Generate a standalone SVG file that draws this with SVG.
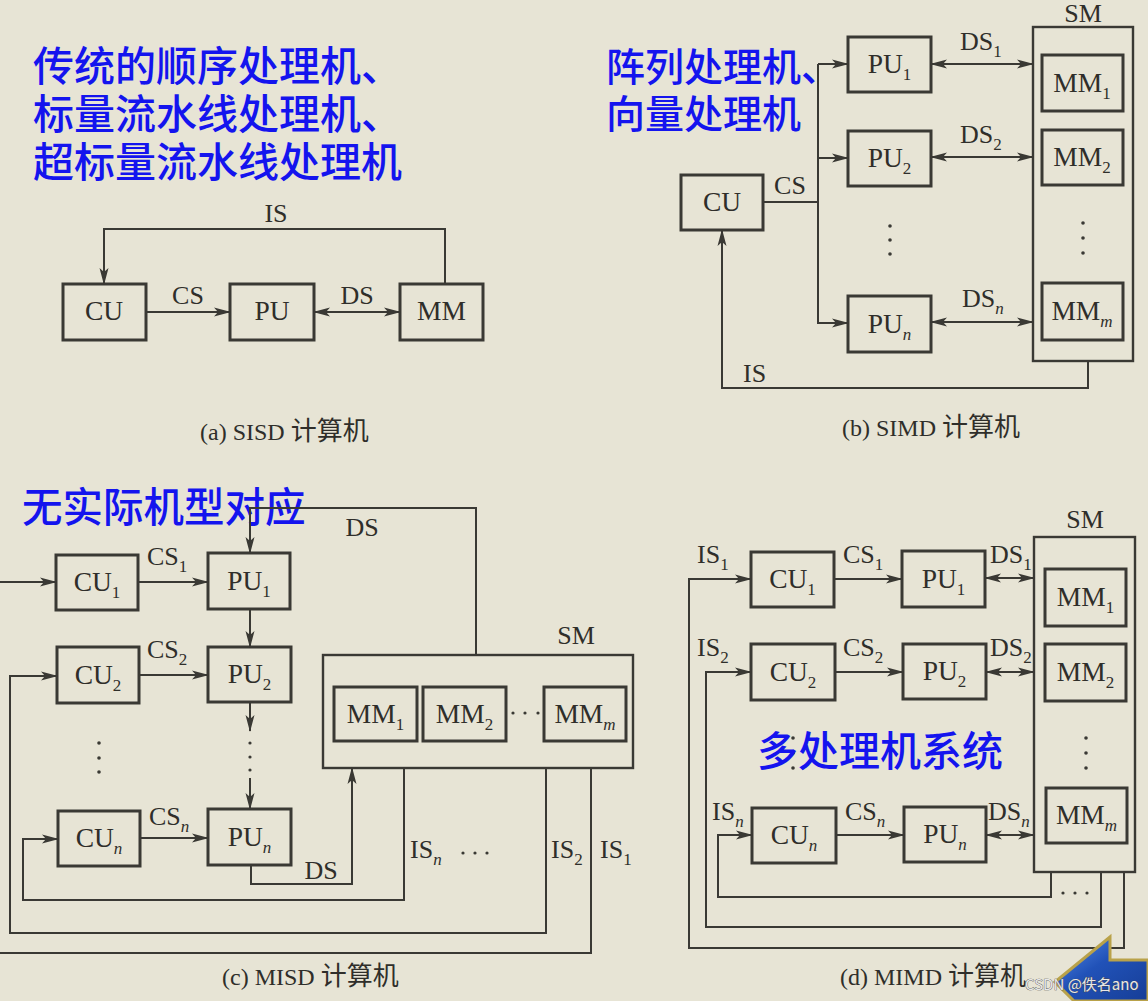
<svg xmlns="http://www.w3.org/2000/svg" width="1148" height="1001" viewBox="0 0 1148 1001">
<defs>
<marker id="arr" markerUnits="userSpaceOnUse" markerWidth="17" markerHeight="10" refX="16" refY="5" orient="auto-start-reverse">
<path d="M0,0.5 L17,5 L0,9.5 L4,5 z" fill="#3a3934"/>
</marker>
<linearGradient id="blueg" x1="0" y1="0" x2="1" y2="1">
<stop offset="0" stop-color="#5b8fe8"/>
<stop offset="0.45" stop-color="#2152b8"/>
<stop offset="1" stop-color="#163d96"/>
</linearGradient>
<style>
.box{fill:none;stroke:#3a3934;stroke-width:3}
.sm{fill:none;stroke:#3a3934;stroke-width:2.4}
.ln{fill:none;stroke:#3a3934;stroke-width:2}
.a{marker-end:url(#arr)}
.b{marker-start:url(#arr);marker-end:url(#arr)}
.t{font-family:"Liberation Serif","Times New Roman",serif;font-size:27.5px;fill:#2f2e2a}
.c{text-anchor:middle}
.l{font-family:"Liberation Serif","Times New Roman",serif;font-size:26px;fill:#2f2e2a}
.s{font-size:17px}
.i{font-style:italic}
.cap{font-family:"Liberation Serif","Noto Sans CJK SC",serif;font-size:24px;fill:#2f2e2a}
.cj{font-family:"Noto Sans CJK SC",sans-serif;font-size:26px}
.blue{font-family:"Noto Sans CJK SC","Noto Sans",sans-serif;font-weight:500;fill:#1414ee}
.dot{fill:#3a3934}
</style>
</defs>
<rect width="1148" height="1001" fill="#e7e4d5"/>

<!-- annotations -->
<text id="note-a" class="blue" font-size="41" x="33" y="81">传统的顺序处理机、<tspan x="33" dy="48">标量流水线处理机、</tspan><tspan x="33" dy="48">超标量流水线处理机</tspan></text>
<text id="note-b" class="blue" font-size="39" x="606" y="81">阵列处理机、<tspan x="606" dy="47">向量处理机</tspan></text>

<!-- (a) SISD -->
<g id="a-cu"><rect class="box" x="63" y="284" width="83" height="56"/><text class="t c" x="104" y="320">CU</text></g>
<g id="a-pu"><rect class="box" x="230" y="284" width="84" height="56"/><text class="t c" x="272" y="320">PU</text></g>
<g id="a-mm"><rect class="box" x="400" y="284" width="83" height="56"/><text class="t c" x="441.5" y="320">MM</text></g>
<g id="a-connectors">
<path class="ln a" d="M146,312 H230"/>
<path class="ln b" d="M314,312 H400"/>
<path class="ln a" d="M445,284 V229 H104 V284"/>
<text class="l c" x="188" y="304">CS</text>
<text class="l c" x="357" y="304">DS</text>
<text class="l c" x="276" y="222">IS</text>
</g>
<text class="cap" x="200" y="440">(a) SISD <tspan class="cj">计算机</tspan></text>

<!-- (b) SIMD -->
<g id="b-sm"><rect class="sm" x="1033" y="27" width="100" height="334"/><text class="l c" x="1083" y="22">SM</text>
<circle class="dot" cx="1083" cy="223" r="1.8"/><circle class="dot" cx="1083" cy="238" r="1.8"/><circle class="dot" cx="1083" cy="253" r="1.8"/></g>
<g id="b-mm1"><rect class="box" x="1042" y="55" width="81" height="56"/><text class="t c" x="1082" y="92">MM<tspan class="s" dy="7">1</tspan></text></g>
<g id="b-mm2"><rect class="box" x="1042" y="130" width="81" height="55"/><text class="t c" x="1082" y="166">MM<tspan class="s" dy="7">2</tspan></text></g>
<g id="b-mmm"><rect class="box" x="1042" y="283" width="81" height="57"/><text class="t c" x="1082" y="320">MM<tspan class="s i" dy="7">m</tspan></text></g>
<g id="b-pu1"><rect class="box" x="848" y="37" width="83" height="55"/><text class="t c" x="889.5" y="73">PU<tspan class="s" dy="7">1</tspan></text></g>
<g id="b-pu2"><rect class="box" x="848" y="131" width="83" height="55"/><text class="t c" x="889.5" y="167">PU<tspan class="s" dy="7">2</tspan></text></g>
<g id="b-pun"><rect class="box" x="848" y="296" width="83" height="56"/><text class="t c" x="889.5" y="333">PU<tspan class="s i" dy="7">n</tspan></text></g>
<g id="b-pudots"><circle class="dot" cx="890" cy="226" r="1.8"/><circle class="dot" cx="890" cy="240" r="1.8"/><circle class="dot" cx="890" cy="254" r="1.8"/></g>
<g id="b-cu"><rect class="box" x="681" y="175" width="82" height="55"/><text class="t c" x="722" y="211">CU</text></g>
<g id="b-connectors">
<path class="ln" d="M763,202 H818 M818,64 V324"/>
<path class="ln a" d="M818,64 H848"/>
<path class="ln a" d="M818,158 H848"/>
<path class="ln a" d="M818,323 H848"/>
<path class="ln b" d="M931,64 H1033"/>
<path class="ln b" d="M931,157 H1033"/>
<path class="ln b" d="M931,322 H1033"/>
<path class="ln a" d="M1088,361 V388 H722 V230"/>
<text class="l c" x="790" y="194">CS</text>
<text class="l" x="960" y="50">DS<tspan class="s" dy="7">1</tspan></text>
<text class="l" x="960" y="143">DS<tspan class="s" dy="7">2</tspan></text>
<text class="l" x="962" y="307">DS<tspan class="s i" dy="7">n</tspan></text>
<text class="l" x="743" y="382">IS</text>
</g>
<text class="cap" x="842" y="436">(b) SIMD <tspan class="cj">计算机</tspan></text>

<!-- (c) MISD -->
<text id="note-c" class="blue" font-size="40.5" x="22" y="522">无实际机型对应</text>
<g id="c-cu1"><rect class="box" x="56" y="555" width="82" height="55"/><text class="t c" x="97" y="591">CU<tspan class="s" dy="7">1</tspan></text></g>
<g id="c-pu1"><rect class="box" x="208" y="553" width="82" height="56"/><text class="t c" x="249" y="590">PU<tspan class="s" dy="7">1</tspan></text></g>
<g id="c-cu2"><rect class="box" x="57" y="647" width="82" height="56"/><text class="t c" x="98" y="684">CU<tspan class="s" dy="7">2</tspan></text></g>
<g id="c-pu2"><rect class="box" x="208" y="647" width="83" height="55"/><text class="t c" x="249.5" y="683">PU<tspan class="s" dy="7">2</tspan></text></g>
<g id="c-cun"><rect class="box" x="58" y="811" width="82" height="55"/><text class="t c" x="99" y="847">CU<tspan class="s i" dy="7">n</tspan></text></g>
<g id="c-pun"><rect class="box" x="208" y="809" width="83" height="56"/><text class="t c" x="249.5" y="846">PU<tspan class="s i" dy="7">n</tspan></text></g>
<g id="c-cudots"><circle class="dot" cx="99" cy="743" r="1.8"/><circle class="dot" cx="99" cy="758" r="1.8"/><circle class="dot" cx="99" cy="772" r="1.8"/></g>
<g id="c-sm"><rect class="sm" x="323" y="655" width="310" height="113"/><text class="l c" x="576" y="644">SM</text>
<circle class="dot" cx="513" cy="713" r="1.6"/><circle class="dot" cx="525" cy="713" r="1.6"/><circle class="dot" cx="538" cy="713" r="1.6"/></g>
<g id="c-mm1"><rect class="box" x="334" y="687" width="83" height="54"/><text class="t c" x="375.5" y="723">MM<tspan class="s" dy="7">1</tspan></text></g>
<g id="c-mm2"><rect class="box" x="423" y="687" width="83" height="54"/><text class="t c" x="464.5" y="723">MM<tspan class="s" dy="7">2</tspan></text></g>
<g id="c-mmm"><rect class="box" x="544" y="687" width="82" height="54"/><text class="t c" x="585" y="723">MM<tspan class="s i" dy="7">m</tspan></text></g>
<g id="c-connectors">
<path class="ln a" d="M0,582 H56"/>
<path class="ln a" d="M138,582 H208"/>
<path class="ln a" d="M139,675 H208"/>
<path class="ln a" d="M140,838 H208"/>
<path class="ln a" d="M476,655 V508 H250 V553"/>
<path class="ln a" d="M250,609 V647"/>
<path class="ln a" d="M250,702 V731"/>
<circle class="dot" cx="250" cy="743" r="1.6"/><circle class="dot" cx="250" cy="757" r="1.6"/><circle class="dot" cx="250" cy="770" r="1.6"/>
<path class="ln a" d="M250,778 V809"/>
<path class="ln a" d="M251,865 V884 H352 V768"/>
<path class="ln a" d="M404,768 V900 H23 V839 H58"/>
<path class="ln a" d="M546,768 V933 H10 V676 H57"/>
<path class="ln" d="M591,768 V953 H0"/>
<text class="l" x="147" y="565">CS<tspan class="s" dy="7">1</tspan></text>
<text class="l" x="147" y="658">CS<tspan class="s" dy="7">2</tspan></text>
<text class="l" x="149" y="825">CS<tspan class="s i" dy="7">n</tspan></text>
<text class="l c" x="362" y="536">DS</text>
<text class="l c" x="321" y="879">DS</text>
<text class="l" x="410" y="858">IS<tspan class="s i" dy="7">n</tspan></text>
<circle class="dot" cx="463" cy="853" r="1.6"/><circle class="dot" cx="475" cy="853" r="1.6"/><circle class="dot" cx="487" cy="853" r="1.6"/>
<text class="l" x="551" y="858">IS<tspan class="s" dy="7">2</tspan></text>
<text class="l" x="600" y="858">IS<tspan class="s" dy="7">1</tspan></text>
</g>
<text class="cap" x="222" y="985">(c) MISD <tspan class="cj">计算机</tspan></text>

<!-- (d) MIMD -->
<g id="d-cu1"><rect class="box" x="751" y="552" width="83" height="55"/><text class="t c" x="792.5" y="588">CU<tspan class="s" dy="7">1</tspan></text></g>
<g id="d-pu1"><rect class="box" x="902" y="551" width="83" height="56"/><text class="t c" x="943.5" y="588">PU<tspan class="s" dy="7">1</tspan></text></g>
<g id="d-cu2"><rect class="box" x="751" y="644" width="84" height="56"/><text class="t c" x="793" y="681">CU<tspan class="s" dy="7">2</tspan></text></g>
<g id="d-pu2"><rect class="box" x="903" y="644" width="83" height="55"/><text class="t c" x="944.5" y="680">PU<tspan class="s" dy="7">2</tspan></text></g>
<g id="d-cun"><rect class="box" x="752" y="808" width="84" height="55"/><text class="t c" x="794" y="844">CU<tspan class="s i" dy="7">n</tspan></text></g>
<g id="d-pun"><rect class="box" x="904" y="807" width="82" height="55"/><text class="t c" x="945" y="843">PU<tspan class="s i" dy="7">n</tspan></text></g>
<g id="d-cudots"><circle class="dot" cx="793" cy="738" r="1.8"/><circle class="dot" cx="793" cy="753" r="1.8"/><circle class="dot" cx="793" cy="768" r="1.8"/></g>
<g id="d-sm"><rect class="sm" x="1034" y="537" width="101" height="335"/><text class="l c" x="1085" y="528">SM</text>
<circle class="dot" cx="1086" cy="738" r="1.8"/><circle class="dot" cx="1086" cy="753" r="1.8"/><circle class="dot" cx="1086" cy="768" r="1.8"/></g>
<g id="d-mm1"><rect class="box" x="1045" y="569" width="81" height="57"/><text class="t c" x="1085.5" y="606">MM<tspan class="s" dy="7">1</tspan></text></g>
<g id="d-mm2"><rect class="box" x="1045" y="644" width="81" height="57"/><text class="t c" x="1085.5" y="681">MM<tspan class="s" dy="7">2</tspan></text></g>
<g id="d-mmm"><rect class="box" x="1046" y="788" width="81" height="55"/><text class="t c" x="1086.5" y="824">MM<tspan class="s i" dy="7">m</tspan></text></g>
<g id="d-connectors">
<path class="ln a" d="M834,579 H902"/>
<path class="ln b" d="M985,578 H1034"/>
<path class="ln a" d="M835,672 H903"/>
<path class="ln b" d="M986,672 H1034"/>
<path class="ln a" d="M836,835 H904"/>
<path class="ln b" d="M986,835 H1034"/>
<path class="ln a" d="M1124,872 V948 H689 V579 H751"/>
<path class="ln a" d="M1101,872 V927 H706 V672 H751"/>
<path class="ln a" d="M1051,872 V897 H718 V835 H752"/>
<circle class="dot" cx="1063" cy="893" r="1.6"/><circle class="dot" cx="1075" cy="893" r="1.6"/><circle class="dot" cx="1087" cy="893" r="1.6"/>
<text class="l" x="843" y="563">CS<tspan class="s" dy="7">1</tspan></text>
<text class="l" x="990" y="563">DS<tspan class="s" dy="7">1</tspan></text>
<text class="l" x="843" y="656">CS<tspan class="s" dy="7">2</tspan></text>
<text class="l" x="990" y="656">DS<tspan class="s" dy="7">2</tspan></text>
<text class="l" x="845" y="820">CS<tspan class="s i" dy="7">n</tspan></text>
<text class="l" x="988" y="820">DS<tspan class="s i" dy="7">n</tspan></text>
<text class="l" x="697" y="563">IS<tspan class="s" dy="7">1</tspan></text>
<text class="l" x="697" y="656">IS<tspan class="s" dy="7">2</tspan></text>
<text class="l" x="712" y="820">IS<tspan class="s i" dy="7">n</tspan></text>
</g>
<text id="note-d" class="blue" font-size="41" x="757" y="766">多处理机系统</text>
<text class="cap" x="840" y="985">(d) MIMD <tspan class="cj">计算机</tspan></text>

<!-- watermark -->
<g id="logo">
<polygon points="1055,982 1110,937 1110,960 1148,960 1148,1001 1074,1001" fill="url(#blueg)" stroke="#b9a24a" stroke-width="3" stroke-linejoin="miter"/>
<text x="1025" y="990" font-family="'Noto Sans CJK SC','Noto Sans',sans-serif" font-size="15" fill="#e8e8e8" stroke="#4a4a4a" stroke-width="0.7" paint-order="stroke">CSDN @佚名ano</text>
</g>
</svg>
